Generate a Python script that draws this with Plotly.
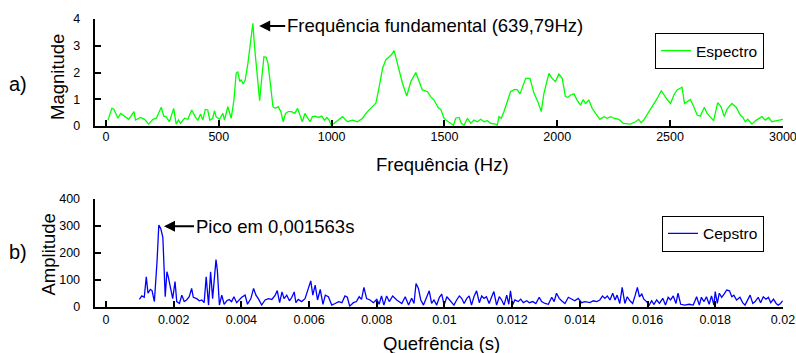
import plotly.graph_objects as go

# ---- data ----
freq_hz = [9, 26, 35, 53, 65, 83, 101, 124, 131, 153, 171, 189, 208, 223, 245, 256, 266, 281, 300, 311,
           321, 330, 348, 363, 380, 395, 407, 419, 429, 440, 451, 460, 473, 481, 488, 503, 518, 525, 540, 555,
           567, 577, 584, 593, 599, 608, 617, 629, 641, 651, 658, 673, 681, 691, 700, 710, 718, 730, 740, 751,
           763, 775, 785, 796, 808, 822, 837, 849, 860, 870, 882, 894, 904, 915, 927, 941, 956, 968, 979, 989,
           998, 1012, 1030, 1048, 1070, 1092, 1115, 1137, 1159, 1181, 1196, 1211, 1226, 1240, 1255, 1265, 1277,
           1284, 1299, 1314, 1333, 1351, 1373, 1388, 1402, 1425, 1439, 1454, 1472, 1484, 1498, 1506, 1516, 1528,
           1540, 1550, 1565, 1575, 1587, 1602, 1617, 1631, 1646, 1661, 1675, 1690, 1705, 1727, 1734, 1742, 1752,
           1764, 1779, 1793, 1811, 1823, 1835, 1845, 1860, 1879, 1897, 1914, 1929, 1941, 1963, 1977, 1992, 2007,
           2022, 2036, 2047, 2059, 2074, 2088, 2103, 2115, 2125, 2140, 2155, 2170, 2189, 2207, 2221, 2236, 2251,
           2273, 2292, 2324, 2347, 2361, 2372, 2383, 2398, 2420, 2443, 2461, 2472, 2487, 2502, 2517, 2531, 2553,
           2564, 2579, 2590, 2605, 2620, 2634, 2652, 2664, 2678, 2693, 2711, 2726, 2740, 2752, 2774, 2793, 2811,
           2823, 2833, 2844, 2863, 2882, 2907, 2922, 2937, 2951, 2973, 3000]
magnitude = [0.22, 0.66, 0.63, 0.29, 0.47, 0.35, 0.25, 0.54, 0.22, 0.32, 0.25, 0.07, 0.25, 0.29, 0.70, 0.37, 0.35,
             0.16, 0.66, 0.07, 0.22, 0.10, 0.29, 0.25, 0.60, 0.35, 0.22, 0.45, 0.22, 0.62, 0.60, 0.22, 0.29, 0.57,
             0.35, 0.25, 0.47, 0.22, 0.72, 0.29, 0.97, 1.97, 2.03, 1.66, 1.72, 1.57, 1.72, 2.34, 3.09, 3.84, 3.0,
             1.47, 0.95, 1.84, 2.59, 2.57, 2.34, 1.47, 0.72, 0.66, 0.72, 0.54, 0.16, 0.47, 0.54, 0.54, 0.47, 0.66,
             0.37, 0.16, 0.47, 0.32, 0.16, 0.35, 0.37, 0.32, 0.37, 0.22, 0.32, 0.22, 0.03, 0.10, 0.22, 0.35, 0.16,
             0.22, 0.16, 0.29, 0.54, 0.72, 0.85, 1.47, 2.16, 2.47, 2.59, 2.66, 2.82, 2.59, 2.03, 1.6, 1.12, 1.66,
             2.0, 1.66, 1.35, 1.28, 1.1, 0.97, 0.69, 0.62, 0.29, 0.22, 0.16, 0.10, 0.03, 0.29, 0.32, 0.10, 0.03,
             0.29, 0.10, 0.22, 0.16, 0.25, 0.16, 0.20, 0.10, 0.07, 0.03, 0.35, 0.29, 0.54, 0.97, 1.28, 1.37, 1.35,
             1.2, 1.44, 1.78, 1.78, 1.22, 0.91, 0.54, 1.22, 1.97, 1.78, 1.66, 1.94, 1.78, 1.1, 1.07, 1.16, 1.2,
             0.97, 0.78, 0.99, 0.84, 0.97, 0.66, 0.47, 0.25, 0.35, 0.29, 0.35, 0.29, 0.25, 0.10, 0.07, 0.16, 0.25,
             0.12, 0.22, 0.41, 0.72, 1.03, 1.32, 1.16, 0.99, 0.84, 1.16, 1.35, 1.45, 0.84, 0.91, 0.99, 0.72, 0.41,
             0.37, 0.70, 0.47, 0.35, 0.20, 0.87, 0.72, 0.35, 0.62, 0.84, 0.70, 0.41, 0.32, 0.16, 0.25, 0.07, 0.22,
             0.35, 0.22, 0.32, 0.16, 0.20, 0.25]

quef_s = [0.000985, 0.00106, 0.00113, 0.00119, 0.00124, 0.00131, 0.00136, 0.00143, 0.00151, 0.00156, 0.00162,
          0.00168, 0.00175, 0.0018, 0.00184, 0.00191, 0.00197, 0.00204, 0.00209, 0.00217, 0.00224, 0.00231,
          0.00238, 0.00246, 0.00253, 0.00258, 0.00268, 0.00276, 0.00283, 0.0029, 0.00296, 0.00303, 0.00309,
          0.00315, 0.00325, 0.00329, 0.00335, 0.00342, 0.00349, 0.00357, 0.00364, 0.00371, 0.00378, 0.00386,
          0.00394, 0.00401, 0.00411, 0.00418, 0.00428, 0.00436, 0.00443, 0.0045, 0.0046, 0.0047, 0.0048, 0.0049,
          0.005, 0.00506, 0.00513, 0.0052, 0.00526, 0.00534, 0.00542, 0.00549, 0.00556, 0.00561, 0.00568,
          0.00578, 0.00588, 0.00595, 0.00605, 0.00611, 0.00618, 0.00625, 0.00633, 0.00641, 0.00648, 0.00657,
          0.00667, 0.00677, 0.00687, 0.00697, 0.00706, 0.00713, 0.0072, 0.00731, 0.0074, 0.00748, 0.00755,
          0.00762, 0.0077, 0.0078, 0.0079, 0.008, 0.00807, 0.00814, 0.00821, 0.00829, 0.00837, 0.00847, 0.00859,
          0.00874, 0.00884, 0.00894, 0.00903, 0.0091, 0.00916, 0.00923, 0.0093, 0.00938, 0.00947, 0.00955,
          0.00962, 0.00969, 0.00977, 0.00985, 0.00992, 0.00999, 0.01007, 0.01015, 0.01021, 0.01028, 0.01036,
          0.01044, 0.01051, 0.01058, 0.01066, 0.01073, 0.0108, 0.01087, 0.01095, 0.01103, 0.0111, 0.01117,
          0.01124, 0.01132, 0.01139, 0.01146, 0.01154, 0.01162, 0.01169, 0.01176, 0.01184, 0.0119, 0.01195,
          0.01201, 0.01208, 0.01218, 0.01225, 0.01233, 0.01243, 0.01251, 0.01261, 0.0127, 0.0128, 0.01287,
          0.01297, 0.01307, 0.01317, 0.01324, 0.01331, 0.01339, 0.01346, 0.01356, 0.01366, 0.01376, 0.01385,
          0.01395, 0.01405, 0.01415, 0.0143, 0.0144, 0.0145, 0.01459, 0.01467, 0.01474, 0.01481, 0.01489,
          0.01497, 0.01504, 0.0151, 0.01518, 0.01525, 0.01533, 0.0154, 0.01548, 0.01556, 0.01563, 0.0157,
          0.01576, 0.01583, 0.01589, 0.01597, 0.01605, 0.01612, 0.01619, 0.01627, 0.01635, 0.01645, 0.01653,
          0.01661, 0.01668, 0.01676, 0.01684, 0.0169, 0.01698, 0.0171, 0.01723, 0.01735, 0.01745, 0.01753,
          0.01759, 0.01767, 0.01774, 0.01782, 0.01789, 0.01796, 0.018, 0.01806, 0.01812, 0.01819, 0.01826,
          0.01834, 0.01842, 0.01849, 0.01855, 0.01863, 0.01873, 0.01881, 0.01888, 0.01895, 0.01903, 0.01911,
          0.01918, 0.01927, 0.01934, 0.01942, 0.0195, 0.01957, 0.01964, 0.01972, 0.0198, 0.01986, 0.01993,
          0.01999]
amplitude = [27, 40, 35, 111, 50, 64, 60, 19, 173, 303, 290, 257, 37, 130, 111, 60, 30, 93, 19, 12, 43, 19, 25,
             37, 68, 35, 30, 22, 25, 15, 111, 6, 130, 30, 175, 135, 6, 43, 9, 22, 27, 19, 37, 15, 25, 35, 43, 9,
             30, 68, 43, 30, 6, 25, 30, 27, 43, 60, 15, 55, 30, 43, 22, 35, 55, 15, 27, 19, 30, 55, 96, 43, 80,
             25, 64, 9, 43, 37, 6, 12, 19, 15, 40, 35, 2, 15, 19, 37, 27, 72, 30, 25, 15, 27, 9, 40, 6, 40, 19,
             40, 25, 12, 37, 6, 31, 12, 86, 68, 25, 6, 37, 59, 12, 25, 6, 35, 47, 6, 37, 25, 19, 6, 25, 40, 31,
             12, 31, 40, 6, 37, 59, 15, 40, 31, 37, 12, 35, 56, 6, 37, 25, 6, 43, 9, 59, 6, 25, 19, 28, 15, 22,
             15, 19, 12, 35, 19, 12, 9, 35, 19, 50, 31, 22, 12, 35, 28, 22, 31, 15, 19, 15, 22, 19, 25, 40, 31,
             40, 25, 50, 25, 43, 12, 72, 12, 37, 22, 12, 40, 72, 37, 47, 28, 19, 6, 22, 9, 25, 12, 31, 6, 35, 25,
             40, 12, 50, 9, 6, 9, 6, 37, 6, 35, 19, 37, 9, 40, 6, 56, 12, 50, 35, 47, 62, 59, 37, 43, 25, 35, 15,
             6, 25, 43, 12, 19, 35, 15, 37, 28, 35, 15, 28, 12, 6, 12, 22]

freq_ticks = [0, 500, 1000, 1500, 2000, 2500, 3000]
mag_ticks = [0, 1, 2, 3, 4]
quef_ticks = [0, 0.002, 0.004, 0.006, 0.008, 0.01, 0.012, 0.014, 0.016, 0.018, 0.02]
quef_labels = ["0", "0.002", "0.004", "0.006", "0.008", "0.01", "0.012", "0.014", "0.016", "0.018", "0.02"]
amp_ticks = [0, 100, 200, 300, 400]

FONT = "Liberation Sans, Arial, sans-serif"
W, H = 796, 353
PAD = "\u00a0\u00a0\u00a0"  # spacing between y tick labels and the axis line

fig = go.Figure()
fig.add_trace(go.Scatter(x=freq_hz, y=magnitude, mode="lines", name="Espectro",
                         line=dict(color="#00ff00", width=1.3), xaxis="x", yaxis="y",
                         legend="legend"))
fig.add_trace(go.Scatter(x=quef_s, y=amplitude, mode="lines", name="Cepstro",
                         line=dict(color="#0000ff", width=1.3), xaxis="x2", yaxis="y2",
                         legend="legend2"))

xdom = [95 / W, 783 / W]
top_dom = [1 - 126 / H, 1 - 19 / H]
bot_dom = [1 - 306.7 / H, 1 - 199 / H]

axis_common = dict(showline=True, linecolor="black", linewidth=2, ticks="inside", ticklen=6,
                   tickwidth=2, tickcolor="black", showgrid=False, zeroline=False,
                   automargin=False, ticklabeloverflow="allow",
                   tickfont=dict(family=FONT, size=12.5, color="black"))

fig.update_layout(
    width=W, height=H, margin=dict(l=0, r=0, t=0, b=0, autoexpand=False),
    paper_bgcolor="white", plot_bgcolor="white",
    font=dict(family=FONT, color="black"),
    xaxis=dict(domain=xdom, anchor="y", range=[-48.7, 3000.5], tickvals=freq_ticks,
               ticklabelstandoff=-2, **axis_common),
    yaxis=dict(domain=top_dom, anchor="x", range=[0, 4], tickvals=mag_ticks,
               ticktext=[f"{v}{PAD}" for v in mag_ticks], **axis_common),
    xaxis2=dict(domain=xdom, anchor="y2", range=[-0.000325, 0.020002], tickvals=quef_ticks,
                ticktext=quef_labels, ticklabelstandoff=0, **axis_common),
    yaxis2=dict(domain=bot_dom, anchor="x2", range=[0, 400], tickvals=amp_ticks,
                ticktext=[f"{v}{PAD}" for v in amp_ticks], **axis_common),
    legend=dict(x=764 / W, xanchor="right", y=1 - 33 / H, yanchor="top",
                bordercolor="black", borderwidth=1, bgcolor="white",
                font=dict(family=FONT, size=15.5, color="black"), itemwidth=30),
    legend2=dict(x=764 / W, xanchor="right", y=1 - 215.7 / H, yanchor="top",
                 bordercolor="black", borderwidth=1, bgcolor="white",
                 font=dict(family=FONT, size=15.5, color="black"), itemwidth=30),
    showlegend=True,
)

anns = [
    # axis titles and panel labels
    dict(text="Frequência (Hz)", x=442 / W, y=1 - 164 / H, size=18.5, xa="center"),
    dict(text="Quefrência (s)", x=441 / W, y=1 - 343 / H, size=18.5, xa="center"),
    dict(text="a)", x=18 / W, y=1 - 84 / H, size=20, xa="center"),
    dict(text="b)", x=18 / W, y=1 - 252 / H, size=20, xa="center"),
]
for a in anns:
    fig.add_annotation(text=a["text"], x=a["x"], y=a["y"], xref="paper", yref="paper",
                       xanchor=a["xa"], yanchor="middle", showarrow=False,
                       font=dict(family=FONT, size=a["size"], color="black"))

fig.add_annotation(text="Magnitude", x=58 / W, y=1 - 77 / H, xref="paper", yref="paper",
                   textangle=-90, showarrow=False, xanchor="center", yanchor="middle",
                   font=dict(family=FONT, size=18.5, color="black"))
fig.add_annotation(text="Amplitude", x=48 / W, y=1 - 254.5 / H, xref="paper", yref="paper",
                   textangle=-90, showarrow=False, xanchor="center", yanchor="middle",
                   font=dict(family=FONT, size=18.5, color="black"))

# arrows with labels
fig.add_annotation(text="Frequência fundamental (639,79Hz)", x=679, y=3.74, xref="x", yref="y",
                   showarrow=True, ax=26, ay=0, xanchor="left", yanchor="middle",
                   arrowhead=2, arrowsize=1.1, arrowwidth=2, arrowcolor="black",
                   font=dict(family=FONT, size=18.5, color="black"))
fig.add_annotation(text="Pico em 0,001563s", x=0.001713, y=299, xref="x2", yref="y2",
                   showarrow=True, ax=30, ay=0, xanchor="left", yanchor="middle",
                   arrowhead=2, arrowsize=1.1, arrowwidth=2, arrowcolor="black",
                   font=dict(family=FONT, size=18.5, color="black"))

fig.write_html("out.html")
